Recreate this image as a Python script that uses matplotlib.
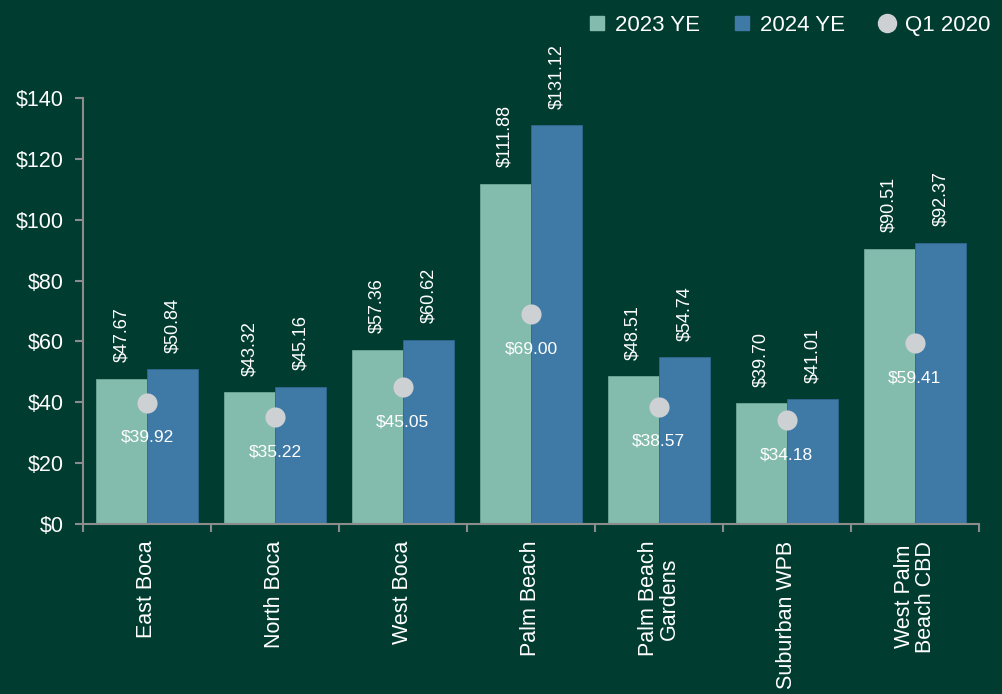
import matplotlib.pyplot as plt
from matplotlib.lines import Line2D
import numpy as np

categories = ["East Boca", "North Boca", "West Boca", "Palm Beach",
              "Palm Beach\nGardens", "Suburban WPB", "West Palm\nBeach CBD"]
ye_2023 = [47.67, 43.32, 57.36, 111.88, 48.51, 39.70, 90.51]
ye_2024 = [50.84, 45.16, 60.62, 131.12, 54.74, 41.01, 92.37]
q1_2020 = [39.92, 35.22, 45.05, 69.00, 38.57, 34.18, 59.41]
y_ticks = [0, 20, 40, 60, 80, 100, 120, 140]

BG = "#013c30"
C23 = "#83bcac"
C24 = "#3f7aa7"
CDOT = "#cdd1d4"
AXC = "#8c8c8c"
FONT = ["Liberation Sans", "DejaVu Sans"]

plt.rcParams["font.family"] = FONT

fig = plt.figure(figsize=(10.02, 6.94), dpi=100, facecolor=BG)
ax = fig.add_axes([0.0828, 0.245, 0.894, 0.6135], facecolor=BG)

x = np.arange(len(categories))
w = 0.4
ax.bar(x - w / 2, ye_2023, width=w, color=C23, edgecolor="#6fa898", linewidth=0.6, zorder=2)
ax.bar(x + w / 2, ye_2024, width=w, color=C24, edgecolor="#2f6790", linewidth=0.6, zorder=2)
ax.scatter(x, q1_2020, s=210, color=CDOT, zorder=4, linewidths=0)

for xi, v in zip(x - w / 2, ye_2023):
    ax.annotate(f"${v:.2f}", (xi, v), xytext=(0, 12), textcoords="offset points",
                rotation=90, ha="center", va="bottom", color="white", fontsize=13)
for xi, v in zip(x + w / 2, ye_2024):
    ax.annotate(f"${v:.2f}", (xi, v), xytext=(0, 12), textcoords="offset points",
                rotation=90, ha="center", va="bottom", color="white", fontsize=13)
for xi, v in zip(x, q1_2020):
    ax.annotate(f"${v:.2f}", (xi, v), xytext=(0, -25), textcoords="offset points",
                ha="center", va="center", color="white", fontsize=12.5)

ax.set_xlim(-0.5, len(categories) - 0.5)
ax.set_ylim(0, 140)
ax.set_yticks(y_ticks)
ax.set_yticklabels([f"${t}" for t in y_ticks], fontsize=15.5, color="white")
ax.set_xticks(x)
ax.set_xticklabels(categories, rotation=90, fontsize=15.5, color="white",
                   va="top", ha="center", linespacing=1.0)
ax.tick_params(axis="x", length=0, pad=12)
ax.set_xticks(np.arange(len(categories) + 1) - 0.5, minor=True)
ax.tick_params(axis="x", which="minor", length=6, width=1.5, color=AXC, direction="out")
ax.tick_params(axis="y", length=6, width=1.5, color=AXC, pad=8)

for s in ["top", "right"]:
    ax.spines[s].set_visible(False)
for s in ["left", "bottom"]:
    ax.spines[s].set_color(AXC)
    ax.spines[s].set_linewidth(1.5)

handles = [
    Line2D([], [], marker="s", linestyle="none", color=C23, markersize=10),
    Line2D([], [], marker="s", linestyle="none", color=C24, markersize=10),
    Line2D([], [], marker="o", linestyle="none", color=CDOT, markersize=13),
]
leg = fig.legend(handles, ["2023 YE", "2024 YE", "Q1 2020"], ncol=3,
                 loc="upper right", bbox_to_anchor=(1.008, 1.007), frameon=False,
                 fontsize=16, handletextpad=0.4, columnspacing=1.5,
                 handlelength=0.8)
for t in leg.get_texts():
    t.set_color("white")

fig.savefig("out.png", dpi=100, facecolor=BG)
